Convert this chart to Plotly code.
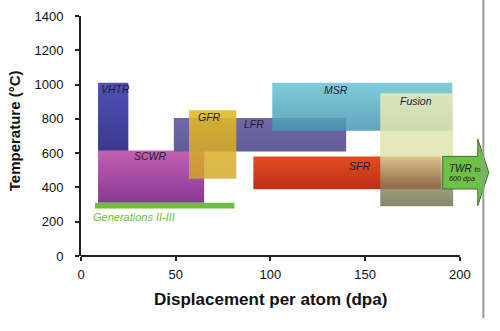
import plotly.graph_objects as go

# ---- data ----
reactors = ["VHTR", "SCWR", "LFR", "GFR", "MSR", "SFR", "Fusion"]
dpa_min = [9, 9, 49, 57, 101, 91, 158]
dpa_max = [25, 65, 140, 82, 196, 190, 196.5]
temp_min = [600, 310, 610, 450, 730, 390, 290]
temp_max = [1010, 615, 805, 850, 1010, 580, 950]
label_dpa = [9.3, 36.4, 84.8, 67.8, 134.6, 147, 177.1]
label_temp = [975, 585, 772, 811, 966, 527, 902]
label_anchor = ["left", "center", "left", "center", "center", "center", "center"]

gen_dpa = [7.4, 81]
gen_temp = [277, 310]
gen_label = "Generations II-III"

twr_dpa = [191, 209.5, 209.5, 215.3, 209.5, 209.5, 191, 191]
twr_temp = [391, 391, 294, 487, 683, 581, 581, 391]

x_ticks = [0, 50, 100, 150, 200]
y_ticks = [0, 200, 400, 600, 800, 1000, 1200, 1400]

# colours: (bottom, top) of the vertical gradient
fills = {
    "VHTR": [[0, "rgb(56,56,140)"], [1, "rgb(80,80,184)"]],
    "SCWR": [[0, "rgb(134,56,148)"], [1, "rgb(196,96,178)"]],
    "LFR": [[0, "rgb(100,92,152)"], [1, "rgb(112,104,164)"]],
    "GFR": [[0, "rgba(210,166,36,0.8)"], [1, "rgba(226,186,36,0.9)"]],
    "MSR": [[0, "rgba(70,150,176,0.85)"], [1, "rgba(112,200,216,0.9)"]],
    "SFR": [[0, "rgb(190,48,24)"], [1, "rgb(226,76,32)"]],
    "Fusion": [[0, "rgba(106,108,76,0.82)"], [0.2, "rgba(140,136,96,0.78)"],
               [0.45, "rgba(222,226,168,0.82)"], [1, "rgba(230,234,180,0.88)"]],
}

fig = go.Figure()
for name, x0, x1, y0, y1 in zip(reactors, dpa_min, dpa_max, temp_min, temp_max):
    fig.add_trace(go.Scatter(
        x=[x0, x1, x1, x0, x0], y=[y0, y0, y1, y1, y0],
        mode="lines", line=dict(width=0), fill="toself",
        fillgradient=dict(type="vertical", colorscale=fills[name]),
        hoverinfo="skip", showlegend=False, name=name))

# TWR arrow
fig.add_trace(go.Scatter(
    x=twr_dpa, y=twr_temp, mode="lines", fill="toself",
    fillcolor="rgb(110,192,70)", line=dict(color="rgb(60,110,40)", width=1),
    hoverinfo="skip", showlegend=False, name="TWR"))

# Generations II-III bar
fig.add_trace(go.Scatter(
    x=[gen_dpa[0], gen_dpa[1], gen_dpa[1], gen_dpa[0], gen_dpa[0]],
    y=[gen_temp[0], gen_temp[0], gen_temp[1], gen_temp[1], gen_temp[0]],
    mode="lines", line=dict(width=0), fill="toself",
    fillcolor="rgb(108,190,60)", hoverinfo="skip", showlegend=False))

annotations = []
for name, lx, ly, anc in zip(reactors, label_dpa, label_temp, label_anchor):
    annotations.append(dict(x=lx, y=ly, xref="x", yref="y", text="<i>%s</i>" % name,
                            showarrow=False, xanchor=anc, yanchor="middle",
                            font=dict(size=10.5, color="#1c1c30")))
annotations.append(dict(x=193.5, y=511, xref="x", yref="y",
                        text="<i>TWR <span style='font-size:7px'>to</span></i>",
                        showarrow=False, xanchor="left", yanchor="middle",
                        font=dict(size=10, color="#1a1a1a")))
annotations.append(dict(x=193.3, y=453, xref="x", yref="y", text="<i>600 dpa</i>",
                        showarrow=False, xanchor="left", yanchor="middle",
                        font=dict(size=7.2, color="#1a1a1a")))
annotations.append(dict(x=5.3, y=228, xref="x", yref="y", text="<i>%s</i>" % gen_label,
                        showarrow=False, xanchor="left", yanchor="middle",
                        font=dict(size=11, color="rgb(108,190,60)")))
annotations.append(dict(x=100, y=-0.183, xref="x", yref="paper",
                        text="<b>Displacement per atom (dpa)</b>", showarrow=False,
                        xanchor="center", yanchor="middle",
                        font=dict(size=17, color="#111")))
annotations.append(dict(x=-0.163, y=0.52, xref="paper", yref="paper",
                        text="<b>Temperature (°C)</b>", showarrow=False, textangle=-90,
                        xanchor="center", yanchor="middle",
                        font=dict(size=15, color="#111")))

shapes = [
    dict(type="line", xref="x", yref="paper", x0=0, x1=200, y0=0, y1=0,
         line=dict(color="#222", width=2)),
    dict(type="line", xref="paper", yref="paper", x0=0.979, x1=0.979, y0=-0.258, y1=1.07,
         line=dict(color="#9a9a9a", width=2)),
]

fig.update_layout(
    width=500, height=331,
    margin=dict(l=81, r=8, t=16, b=75),
    paper_bgcolor="white", plot_bgcolor="white",
    font=dict(family="Liberation Sans, Arial, sans-serif", color="#111"),
    xaxis=dict(range=[0, 217], tickvals=x_ticks, showgrid=False, zeroline=False,
               showline=False, ticks="outside", ticklen=4, tickwidth=1.5, tickcolor="#222",
               tickfont=dict(size=13, color="#111"), ticklabelstandoff=2),
    yaxis=dict(range=[0, 1400], tickvals=y_ticks, showgrid=False, zeroline=False,
               showline=True, linecolor="#222", linewidth=2, ticks="outside", ticklen=4,
               tickwidth=1.5, tickcolor="#222", tickfont=dict(size=13, color="#111"),
               ticklabelstandoff=9),
    annotations=annotations, shapes=shapes,
)

fig.write_html("out.html")
